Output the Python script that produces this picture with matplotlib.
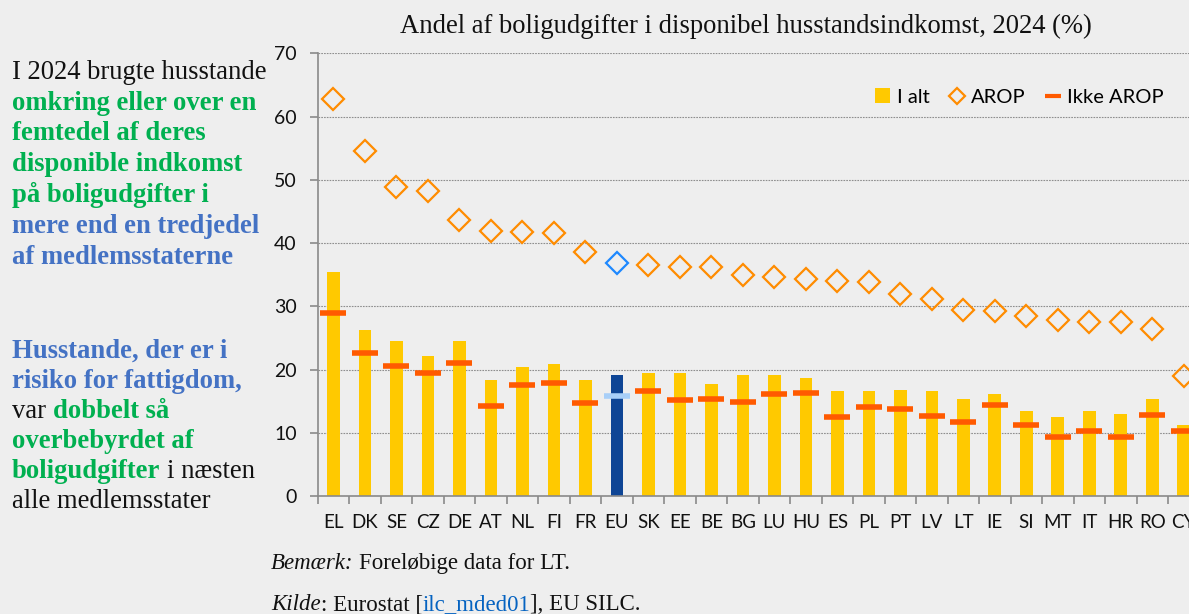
import numpy as np
import matplotlib
matplotlib.use('Agg')
from matplotlib import pyplot as plt
from matplotlib.lines import Line2D
from matplotlib.patches import Patch

countries = ['EL', 'DK', 'SE', 'CZ', 'DE', 'AT', 'NL', 'FI', 'FR', 'EU', 'SK', 'EE', 'BE', 'BG',
             'LU', 'HU', 'ES', 'PL', 'PT', 'LV', 'LT', 'IE', 'SI', 'MT', 'IT', 'HR', 'RO', 'CY']
total = [35.4, 26.2, 24.5, 22.1, 24.5, 18.3, 20.4, 20.8, 18.4, 19.1, 19.4, 19.5, 17.7, 19.2,
         19.1, 18.7, 16.6, 16.6, 16.7, 16.6, 15.4, 16.2, 13.5, 12.5, 13.5, 12.9, 15.3, 11.3]
arop = [62.8, 54.6, 48.9, 48.2, 43.7, 41.9, 41.8, 41.6, 38.6, 36.8, 36.5, 36.2, 36.2, 34.9,
        34.6, 34.3, 34.0, 33.8, 31.9, 31.2, 29.4, 29.2, 28.5, 27.8, 27.5, 27.5, 26.4, 18.9]
non_arop = [28.9, 22.6, 20.5, 19.5, 21.1, 14.3, 17.6, 17.9, 14.7, 15.8, 16.6, 15.2, 15.4, 14.9,
            16.2, 16.3, 12.5, 14.1, 13.8, 12.7, 11.7, 14.4, 11.3, 9.4, 10.3, 9.4, 12.8, 10.2]

title = 'Andel af boligudgifter i disponibel husstandsindkomst, 2024 (%)'

GREEN = '#00B050'
BLUE = '#4472C4'
BLACK = '#111111'

# left hand text: (text, colour, bold, space before)
side_lines = [
    [('I 2024 brugte husstande', BLACK, False, False)],
    [('omkring eller over en', GREEN, True, False)],
    [('femtedel af deres', GREEN, True, False)],
    [('disponible indkomst', GREEN, True, False)],
    [('på boligudgifter i', GREEN, True, False)],
    [('mere end en tredjedel', BLUE, True, False)],
    [('af medlemsstaterne', BLUE, True, False)],
    None,
    [('Husstande, der er i', BLUE, True, False)],
    [('risiko for fattigdom,', BLUE, True, False)],
    [('var', BLACK, False, False), ('dobbelt så', GREEN, True, True)],
    [('overbebyrdet af', GREEN, True, False)],
    [('boligudgifter', GREEN, True, False), ('i næsten', BLACK, False, True)],
    [('alle medlemsstater', BLACK, False, False)],
]
side_baselines = [79, 109.5, 140, 171, 202, 233, 264, None, 358, 388, 418, 448, 478, 508]

BG = '#EEEEEE'
W, H = 1189, 614
fig = plt.figure(figsize=(W / 100, H / 100), dpi=100, facecolor=BG)
ax = fig.add_axes([317.7 / W, 118 / H, (1199.5 - 317.7) / W, (496 - 53.3) / H])
ax.set_facecolor(BG)

x = np.arange(len(countries))
is_eu = np.array([c == 'EU' for c in countries])
bar_colors = ['#0E4595' if e else '#FFC900' for e in is_eu]

ax.bar(x, total, width=0.4, color=bar_colors, zorder=2)

arop = np.array(arop)
non_arop = np.array(non_arop)
ax.plot(x[~is_eu], arop[~is_eu], ls='none', marker='D', ms=11.5, mfc='none',
        mec='#FF8C00', mew=1.6, zorder=3, clip_on=False)
ax.plot(x[is_eu], arop[is_eu], ls='none', marker='D', ms=11.5, mfc='none',
        mec='#1E88FF', mew=1.6, zorder=3)
ax.plot(x[~is_eu], non_arop[~is_eu], ls='none', marker='_', ms=19, mew=4,
        color='#FF5A00', zorder=4, clip_on=False)
ax.plot(x[is_eu], non_arop[is_eu], ls='none', marker='_', ms=19, mew=4,
        color='#A8CFF8', zorder=4)

ax.set_xlim(-0.5, len(countries) - 0.5)
ax.set_ylim(0, 70)
ax.set_yticks(range(0, 71, 10))
ax.yaxis.grid(True, ls=(0, (1.5, 1)), lw=0.8, color='#8E8E8E')
ax.set_axisbelow(True)

ax.set_xticks(x)
ax.set_xticklabels(countries)
ax.set_xticks(np.arange(-0.5, len(countries)), minor=True)
ax.tick_params(axis='x', which='major', length=0, pad=13, labelsize=13.5, labelcolor='#111111')
ax.tick_params(axis='x', which='minor', length=6, color='#8A8A8A', width=1.2)
ax.tick_params(axis='y', length=6, color='#8A8A8A', width=1.2, pad=9,
               labelsize=14, labelcolor='#111111')
for lab in ax.get_xticklabels() + ax.get_yticklabels():
    lab.set_fontfamily('Lato')

for s in ['top', 'right']:
    ax.spines[s].set_visible(False)
for s in ['left', 'bottom']:
    ax.spines[s].set_color('#8A8A8A')
    ax.spines[s].set_linewidth(1.2)

handles = [
    Patch(facecolor='#FFC900', edgecolor='none'),
    Line2D([], [], ls='none', marker='D', ms=8.5, mfc='none', mec='#FF8C00', mew=1.6),
    Line2D([], [], ls='none', marker='_', ms=12, mew=3, color='#FF5A00'),
]
fig.legend(handles, ['I alt', 'AROP', 'Ikke AROP'], ncol=3, frameon=False,
           loc='center right', bbox_to_anchor=(1174 / W, 1 - 97 / H),
           prop={'family': 'Lato', 'size': 14.5}, handlelength=0.75, handleheight=0.75,
           handletextpad=0.35, columnspacing=0.95, borderpad=0)

fig.text(746 / W, 1 - 33 / H, title, ha='center', va='baseline',
         fontfamily='Liberation Serif', fontsize=19.2, color='#111111')

renderer = fig.canvas.get_renderer()


def rich_line(x0, base, parts, size):
    xp = x0
    space = size * 100 / 72 * 0.25
    for txt, color, bold, sp, *rest in parts:
        if sp:
            xp += space
        style = rest[0] if rest else 'normal'
        t = fig.text(xp / W, 1 - base / H, txt, color=color, ha='left', va='baseline',
                     fontfamily='Liberation Serif', fontsize=size,
                     fontweight='bold' if bold else 'normal', fontstyle=style)
        xp = t.get_window_extent(renderer).x1


for parts, base in zip(side_lines, side_baselines):
    if parts:
        rich_line(12, base, parts, 19.2)

rich_line(271, 569, [('Bemærk:', BLACK, False, False, 'italic'),
                     ('Foreløbige data for LT.', BLACK, False, True)], 16.5)
rich_line(271, 610, [('Kilde', BLACK, False, False, 'italic'),
                     (': Eurostat [', BLACK, False, False),
                     ('ilc_mded01', '#0563C1', False, False),
                     ('], EU SILC.', BLACK, False, False)], 16.5)

fig.savefig('out.png', dpi=100, facecolor=BG)
